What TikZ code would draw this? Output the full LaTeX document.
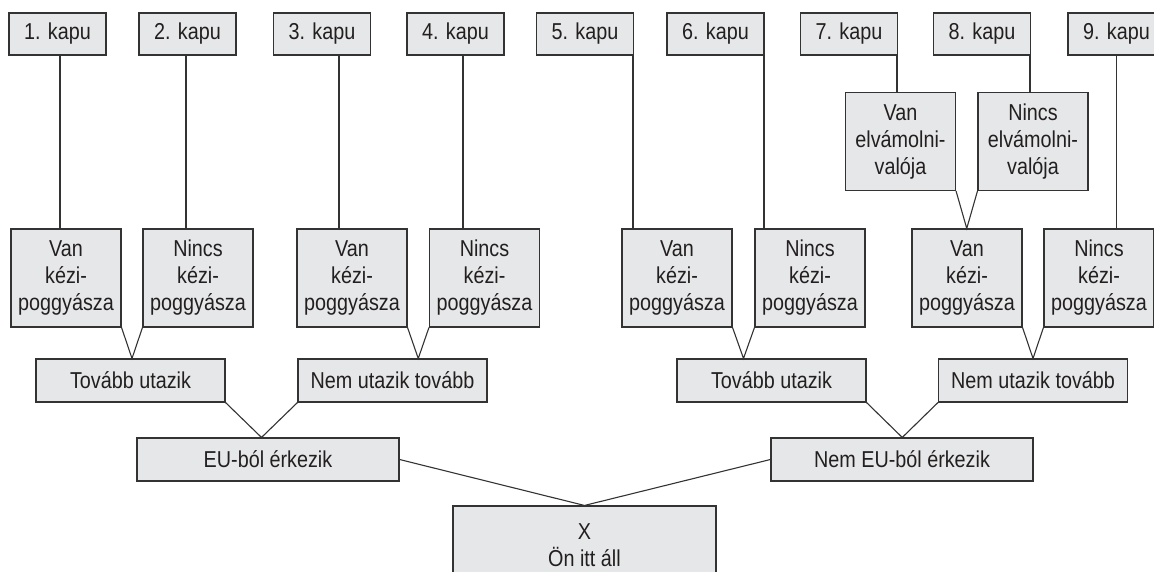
\documentclass[tikz,border=0pt]{standalone}
\usepackage{fontspec}
\setmainfont{Liberation Sans}[FakeStretch=0.86]
\definecolor{gtText}{HTML}{231F20}
\definecolor{gtLine}{HTML}{333333}
\definecolor{gtBox}{HTML}{E6E7E8}
\usetikzlibrary{calc}

\tikzset{
  box/.style={draw=gtLine, fill=gtBox, line width=1.1pt, inner sep=0pt,
    align=center, text=gtText, font=\fontsize{23}{27}\selectfont},
  gatebox/.style={box, minimum width=97pt, minimum height=42pt},
  bagbox/.style={box, minimum width=110pt, minimum height=98pt},
  tripbox/.style={box, minimum width=189pt, minimum height=43pt},
  originbox/.style={box, minimum width=262pt, minimum height=43pt},
  herebox/.style={box, minimum width=263pt, minimum height=78pt},
  link/.style={draw=gtLine, line width=1.1pt}
}

\begin{document}
\begin{tikzpicture}[x=1pt,y=-1pt]
  \useasboundingbox (0,0) rectangle (1154,572);

  \foreach \n/\xc in {1/57.5,2/187.5,3/322,4/455.5,5/585,6/715.5,7/849,8/982,9/1116.5}
    \node[gatebox] (k\n) at (\xc,34) {\n. kapu};

  \node[bagbox] (ve) at (900.5,141.5) {Van\\elvámolni-\\valója};
  \node[bagbox] (ne) at (1033,141.5) {Nincs\\elvámolni-\\valója};

  \foreach \nm/\xc/\tx in {v1/66/Van,n1/198/Nincs,v2/352/Van,n2/484.5/Nincs,
      v3/677/Van,n3/810/Nincs,v4/967/Van,n4/1099/Nincs}
    \node[bagbox] (\nm) at (\xc,278) {\tx\\kézi-\\poggyásza};

  \node[tripbox] (t1) at (130.5,380.5) {Tovább utazik};
  \node[tripbox] (s1) at (392.5,380.5) {Nem utazik tovább};
  \node[tripbox] (t2) at (771.5,380.5) {Tovább utazik};
  \node[tripbox] (s2) at (1033,380.5) {Nem utazik tovább};

  \node[originbox] (eu) at (268,459.5) {EU-ból érkezik};
  \node[originbox] (neu) at (902,459.5) {Nem EU-ból érkezik};

  \node[herebox] (x) at (584.5,545) {X\\Ön itt áll};

  \foreach \n/\dx/\nm in {1/2.5/v1,2/-1.5/n1,3/17/v2,4/7.5/n2,5/48/v3,
      6/48.5/n3,7/48/ve,8/48/ne,9/0/n4} {
    \coordinate (g\n) at ($(k\n.south)+(\dx,0)$);
    \draw[link] (g\n) -- (g\n |- \nm.north);
  }

  \foreach \ua/\ub/\lo in {v1/n1/t1,v2/n2/s1,v3/n3/t2,v4/n4/s2,ve/ne/v4,t1/s1/eu,t2/s2/neu} {
    \coordinate (mid) at ($(\ua.south east)!0.5!(\ub.south west)$);
    \draw[link] (\ua.south east) -- (mid |- \lo.north) -- (\ub.south west);
  }
  \draw[link] (eu.east) -- (x.north) -- (neu.west);
\end{tikzpicture}
\end{document}
